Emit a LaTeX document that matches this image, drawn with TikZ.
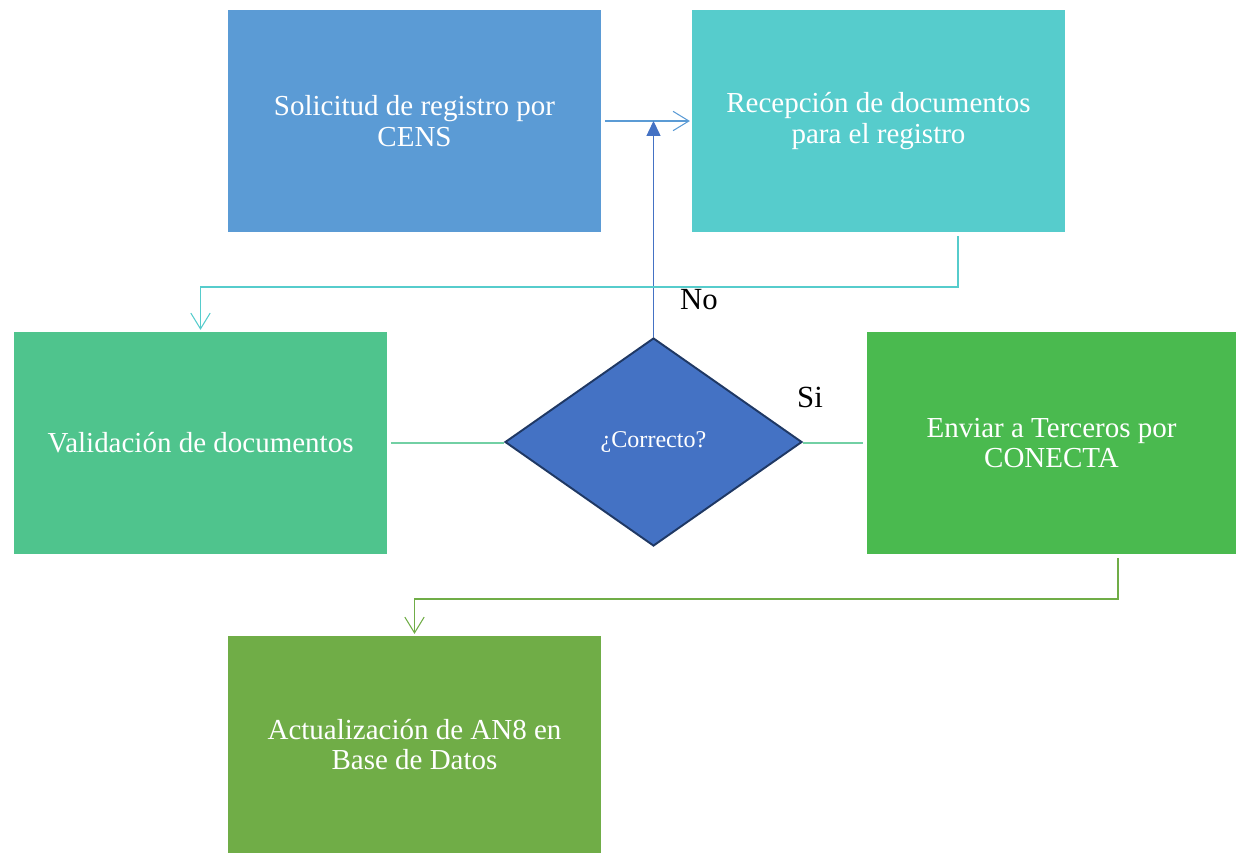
\documentclass[tikz,border=0pt]{standalone}
\usepackage{fontspec}
\setmainfont{Liberation Serif}
\usepackage{xcolor}
\usetikzlibrary{shapes.geometric,arrows.meta}

\definecolor{solblue}{HTML}{5B9BD5}
\definecolor{recteal}{HTML}{56CCCC}
\definecolor{valgreen}{HTML}{4FC48D}
\definecolor{envgreen}{HTML}{4ABA4F}
\definecolor{actgreen}{HTML}{70AD47}
\definecolor{decblue}{HTML}{4472C4}
\definecolor{decnavy}{HTML}{1F3864}

\begin{document}
\begin{tikzpicture}[
    box/.style={shape=rectangle, minimum width=7.46cm, minimum height=4.44cm, inner sep=0pt,
      text=white, align=center, font=\fontsize{16.5}{17.2}\selectfont},
    decision/.style={shape=diamond, minimum width=5.94cm, minimum height=4.16cm, inner sep=0pt,
      fill=decblue, draw=decnavy, line width=1.1pt, text=white, font=\fontsize{13.7}{15}\selectfont},
    link/.style={line width=0.6pt},
    open/.style={-{Straight Barb[length=9pt,width=11pt,line width=0.6pt]}},
    tag/.style={font=\fontsize{17.5}{19}\selectfont}]
    \useasboundingbox (0,0) rectangle (24.72,-17.08);

    \node[box,fill=solblue] (solicitud) at (8.29,-2.42) {Solicitud de registro por\\CENS};
    \node[box,fill=recteal] (recepcion) at (17.57,-2.42) {Recepción de documentos\\para el registro};
    \node[box,fill=valgreen] (validacion) at (4.01,-8.86) {Validación de documentos};
    \node[decision] (correcto) at (13.07,-8.84) {¿Correcto?};
    \node[box,fill=envgreen,minimum width=7.38cm] (enviar) at (21.03,-8.86) {Enviar a Terceros por\\CONECTA};
    \node[box,fill=actgreen,minimum height=4.34cm] (actualizacion) at (8.29,-14.89) {Actualización de AN8 en\\Base de Datos};

    \node[tag] (no) at (13.98,-6.0) {No};
    \node[tag] (si) at (16.2,-7.94) {Si};

    \coordinate (jog1) at (0,-5.74);
    \coordinate (jog2) at (0,-11.98);

    \draw[link,solblue,open,shorten <=2pt,shorten >=1pt] (solicitud.east) -- (recepcion.west);
    \draw[link,decblue,-{Triangle[length=8.5pt,width=8pt]}] (correcto.north) -- (correcto.north |- solicitud.east);
    \draw[link,recteal,open] ([xshift=1.59cm,yshift=-2pt]recepcion.south) |- (jog1 -| validacion.north) -- ([yshift=1pt]validacion.north);
    \draw[link,valgreen!80] ([xshift=2pt]validacion.east) -- (validacion.east -| correcto.west);
    \draw[link,valgreen!80] (correcto.east |- enviar.west) -- ([xshift=-2pt]enviar.west);
    \draw[link,actgreen,open] ([xshift=1.33cm,yshift=-2pt]enviar.south) |- (jog2 -| actualizacion.north) -- ([yshift=1pt]actualizacion.north);
\end{tikzpicture}
\end{document}
